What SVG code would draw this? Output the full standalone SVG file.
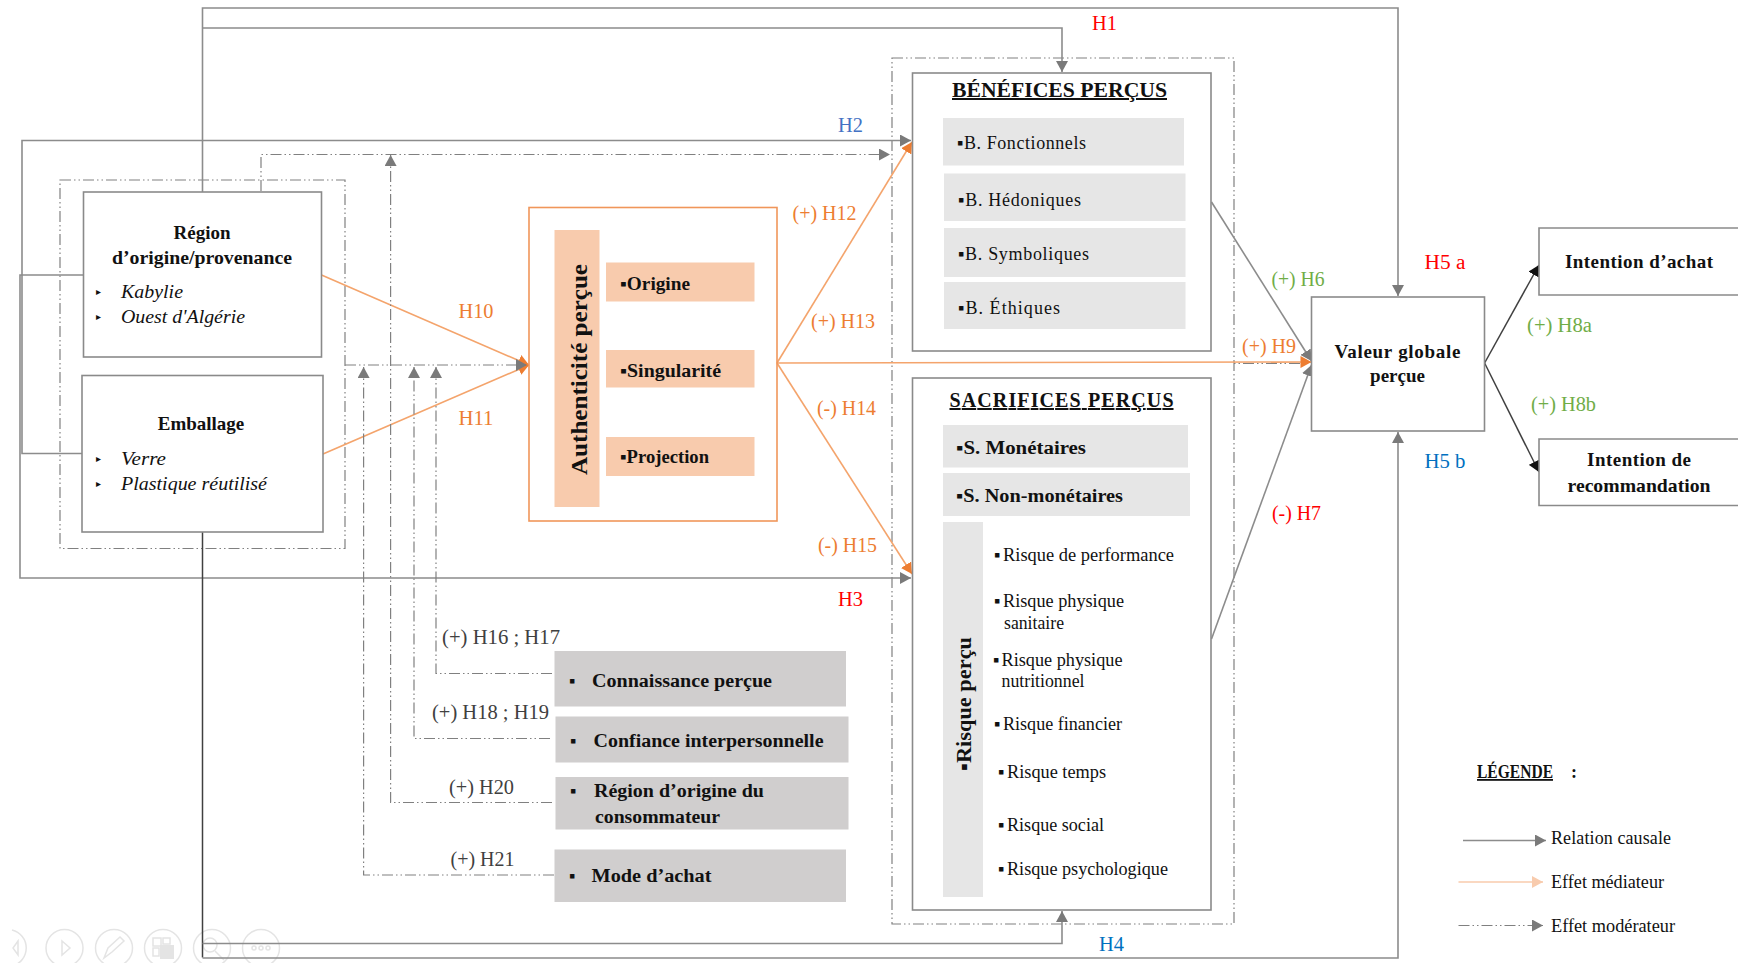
<svg xmlns="http://www.w3.org/2000/svg" width="1738" height="963" viewBox="0 0 1738 963">
<style>
text{font-family:"Liberation Serif","Times New Roman",serif;fill:#111}
.b{font-weight:bold}
.i{font-style:italic}
.box{fill:#fff;stroke:#8a8a8a;stroke-width:1.6}
.dash{fill:none;stroke:#808080;stroke-width:1.2;stroke-dasharray:11 3 1.5 3 1.5 3}
.line{fill:none;stroke:#8c8c8c;stroke-width:1.6}
.or{fill:none;stroke:#f4a46c;stroke-width:1.6}
.blk{fill:none;stroke:#404040;stroke-width:1.5}
.g{fill:#e6e6e6}
.p{fill:#f8cbad}
.m{fill:#d0cece}
.t{font-size:18px}
.n{font-size:19px}
.l{font-size:20px}
.s{font-size:10px;font-style:normal}
.m1{font-size:20px;fill:#404040}
.ro{fill:#ed7d31}.rr{fill:#ff0000}.rb{fill:#0070c0}.rb2{fill:#4472c4}.rg{fill:#70ad47}
.ic{fill:none;stroke:#e4e4e4;stroke-width:1.5}
.if{fill:#e4e4e4}
</style>
<defs>
<marker id="ag" markerUnits="userSpaceOnUse" markerWidth="12" markerHeight="12" refX="11" refY="6" orient="auto"><path d="M0 0L11 6L0 12z" fill="#7a7a7a"/></marker>
<marker id="ao" markerUnits="userSpaceOnUse" markerWidth="12" markerHeight="12" refX="11" refY="6" orient="auto"><path d="M0 0L11 6L0 12z" fill="#ed7d31"/></marker>
<marker id="ak" markerUnits="userSpaceOnUse" markerWidth="12" markerHeight="12" refX="11" refY="6" orient="auto"><path d="M0 0L11 6L0 12z" fill="#111"/></marker>
<marker id="ap" markerUnits="userSpaceOnUse" markerWidth="12" markerHeight="12" refX="11" refY="6" orient="auto"><path d="M0 0L11 6L0 12z" fill="#f8cbad"/></marker>
</defs>
<rect width="1738" height="963" fill="#fff"/>

<g id="toolbar">
<path class="ic" d="M12 930A18.500 18.500 0 0 1 12 966M18 941L13 948L18 955z"/>
<circle class="ic" cx="64.500" cy="948" r="18.500"/><path class="ic" d="M62 941L70 948L62 955z"/>
<circle class="ic" cx="114" cy="948" r="18.500"/><path class="ic" d="M104 958L108 948L120 937L124 941L112 952z"/>
<circle class="ic" cx="163" cy="948" r="18.500"/><rect class="ic" x="153" y="938" width="8" height="8"/><rect class="ic" x="163" y="938" width="7" height="6"/><rect class="ic" x="153" y="948" width="6" height="8"/><rect class="if" x="160" y="945" width="14" height="14"/>
<circle class="ic" cx="212" cy="948" r="18.500"/><circle class="ic" cx="210" cy="945" r="7"/><path class="ic" d="M215 951L224 960"/>
<circle class="ic" cx="261" cy="948" r="18.500"/><circle class="ic" cx="254" cy="948" r="2"/><circle class="ic" cx="261" cy="948" r="2"/><circle class="ic" cx="268" cy="948" r="2"/>
</g>

<g id="dashed-frames">
<rect class="dash" x="60" y="180" width="285" height="368.500"/>
<rect class="dash" x="892" y="58" width="342" height="866"/>
</g>

<g id="connectors">
<path class="line" d="M202.500 192V8H1398V296" marker-end="url(#ag)"/>
<path class="line" d="M202.500 28H1062V72" marker-end="url(#ag)"/>
<path class="line" d="M83 453.500H22V140.500H911" marker-end="url(#ag)"/>
<path class="line" d="M83 275H20V578H911" marker-end="url(#ag)"/>
<path class="blk" d="M202.500 532V957.500" stroke-width="1.2"/>
<path class="line" d="M202.500 943.500H1062V911" marker-end="url(#ag)"/>
<path class="line" d="M202.500 958H1398V432" marker-end="url(#ag)"/>
<path class="line" d="M1211.500 202L1311.500 361" marker-end="url(#ag)"/>
<path class="line" d="M1211.500 639L1311.500 365" marker-end="url(#ag)"/>
<path class="or" d="M321.500 275L529 365" marker-end="url(#ao)"/>
<path class="or" d="M323 454L529 365" marker-end="url(#ao)"/>
<path class="dash" d="M345 365H527" marker-end="url(#ag)"/>
<path class="or" d="M777 363L912 142" marker-end="url(#ao)"/>
<path class="or" d="M777 363L912 574" marker-end="url(#ao)"/>
<path class="or" d="M777 363L1311.500 362" marker-end="url(#ao)"/>
<path class="dash" d="M1300 363.500H1234"/>
<path class="blk" d="M1484.600 363L1539 265" marker-end="url(#ak)"/>
<path class="blk" d="M1484.600 363L1539 472" marker-end="url(#ak)"/>
<path class="dash" d="M261 191V154.500H890" marker-end="url(#ag)"/>
<path class="dash" d="M552 802.500H390.600V155" marker-end="url(#ag)"/>
<path class="dash" d="M552 673.500H436V367" marker-end="url(#ag)"/>
<path class="dash" d="M550 738.500H414V367" marker-end="url(#ag)"/>
<path class="dash" d="M554 875H363.600V367" marker-end="url(#ag)"/>
</g>

<g id="region-origine">
<rect class="box" x="83.500" y="192" width="238" height="165"/>
<text class="b n" x="202" y="239" text-anchor="middle">Région</text>
<text class="b n" x="202" y="264" text-anchor="middle" textLength="180" lengthAdjust="spacingAndGlyphs">d’origine/provenance</text>
<text class="s" x="96" y="295">▸</text>
<text class="i n" x="121" y="298" textLength="62" lengthAdjust="spacingAndGlyphs">Kabylie</text>
<text class="s" x="96" y="320">▸</text>
<text class="i n" x="121" y="323" textLength="124" lengthAdjust="spacingAndGlyphs">Ouest d'Algérie</text>
</g>
<g id="emballage">
<rect class="box" x="82" y="375.500" width="241" height="156.500"/>
<text class="b n" x="201" y="430" text-anchor="middle">Emballage</text>
<text class="s" x="96" y="462">▸</text>
<text class="i n" x="121" y="465" textLength="45" lengthAdjust="spacingAndGlyphs">Verre</text>
<text class="s" x="96" y="487">▸</text>
<text class="i n" x="121" y="490" textLength="146" lengthAdjust="spacingAndGlyphs">Plastique réutilisé</text>
</g>

<g id="authenticite">
<rect x="529" y="207.500" width="248" height="313.500" fill="none" stroke="#f0965a" stroke-width="1.6"/>
<rect class="p" x="554.500" y="230" width="45" height="277"/>
<text class="b" transform="translate(587 475) rotate(-90)" font-size="24" textLength="211" lengthAdjust="spacingAndGlyphs">Authenticité perçue</text>
<rect class="p" x="606" y="262.500" width="148.500" height="39"/>
<text class="b t" x="620" y="290" textLength="70" lengthAdjust="spacingAndGlyphs">▪Origine</text>
<rect class="p" x="606" y="350" width="148.500" height="37.500"/>
<text class="b t" x="620" y="376.500" textLength="101" lengthAdjust="spacingAndGlyphs">▪Singularité</text>
<rect class="p" x="606" y="437" width="148.500" height="39"/>
<text class="b t" x="620" y="462.500" textLength="89" lengthAdjust="spacingAndGlyphs">▪Projection</text>
</g>

<g id="benefices">
<rect class="box" x="912.500" y="73" width="298.500" height="278"/>
<text class="b" x="952" y="97" font-size="20" text-decoration="underline" textLength="215" lengthAdjust="spacingAndGlyphs">BÉNÉFICES PERÇUS</text>
<rect class="g" x="943" y="118" width="241" height="47.500"/>
<text class="t" x="957" y="148.500" textLength="129" lengthAdjust="spacing">▪B. Fonctionnels</text>
<rect class="g" x="944" y="173.500" width="241.500" height="47.500"/>
<text class="t" x="958" y="205.500" textLength="123" lengthAdjust="spacing">▪B. Hédoniques</text>
<rect class="g" x="944" y="228" width="241.500" height="49"/>
<text class="t" x="958" y="260" textLength="131" lengthAdjust="spacing">▪B. Symboliques</text>
<rect class="g" x="944" y="282" width="241.500" height="47"/>
<text class="t" x="958" y="313.500" textLength="102" lengthAdjust="spacing">▪B. Éthiques</text>
</g>

<g id="sacrifices">
<rect class="box" x="912.500" y="378" width="298.500" height="532"/>
<text class="b" x="949.500" y="407" font-size="20" text-decoration="underline" textLength="224" lengthAdjust="spacing">SACRIFICES  PERÇUS</text>
<rect class="g" x="943" y="425" width="245" height="42.500"/>
<text class="b t" x="956" y="453.500" textLength="130" lengthAdjust="spacingAndGlyphs">▪S. Monétaires</text>
<rect class="g" x="943" y="473" width="247" height="43"/>
<text class="b t" x="956" y="501.500" textLength="167" lengthAdjust="spacingAndGlyphs">▪S. Non-monétaires</text>
<rect class="g" x="943" y="522" width="40" height="375"/>
<text class="b" transform="translate(971 771) rotate(-90)" font-size="21" textLength="134" lengthAdjust="spacingAndGlyphs">▪Risque perçu</text>
<text class="t" x="994" y="561">▪</text><text class="t" x="1003" y="561" textLength="171" lengthAdjust="spacingAndGlyphs">Risque de performance</text>
<text class="t" x="994" y="607">▪</text><text class="t" x="1003" y="607" textLength="121" lengthAdjust="spacingAndGlyphs">Risque physique</text>
<text class="t" x="1004" y="629" textLength="60" lengthAdjust="spacingAndGlyphs">sanitaire</text>
<text class="t" x="993" y="666">▪</text><text class="t" x="1001.500" y="666" textLength="121" lengthAdjust="spacingAndGlyphs">Risque physique</text>
<text class="t" x="1001.500" y="687" textLength="83" lengthAdjust="spacingAndGlyphs">nutritionnel</text>
<text class="t" x="994" y="730">▪</text><text class="t" x="1003" y="730" textLength="119" lengthAdjust="spacingAndGlyphs">Risque financier</text>
<text class="t" x="998" y="778">▪</text><text class="t" x="1007" y="778" textLength="99" lengthAdjust="spacingAndGlyphs">Risque temps</text>
<text class="t" x="998" y="831">▪</text><text class="t" x="1007" y="831" textLength="97" lengthAdjust="spacingAndGlyphs">Risque social</text>
<text class="t" x="998" y="875">▪</text><text class="t" x="1007" y="875" textLength="161" lengthAdjust="spacingAndGlyphs">Risque psychologique</text>
</g>

<g id="valeur">
<rect class="box" x="1311.500" y="297" width="173" height="134"/>
<text class="b n" x="1397.500" y="358" text-anchor="middle" textLength="126" lengthAdjust="spacing">Valeur globale</text>
<text class="b n" x="1397.500" y="382" text-anchor="middle">perçue</text>
</g>
<g id="intention-achat">
<path class="box" d="M1738 228H1539V295H1738"/>
<text class="b n" x="1639" y="267.500" text-anchor="middle" textLength="148" lengthAdjust="spacing">Intention d’achat</text>
</g>
<g id="intention-reco">
<path class="box" d="M1738 439H1539V505.500H1738"/>
<text class="b n" x="1639" y="465.500" text-anchor="middle" textLength="104" lengthAdjust="spacing">Intention de</text>
<text class="b n" x="1639" y="491.500" text-anchor="middle" textLength="143" lengthAdjust="spacingAndGlyphs">recommandation</text>
</g>

<g id="mod-connaissance">
<rect class="m" x="554.500" y="651" width="291.500" height="55.500"/>
<text class="b t" x="569" y="687">▪</text>
<text class="b t" x="592" y="687" textLength="180" lengthAdjust="spacingAndGlyphs">Connaissance perçue</text>
</g>
<g id="mod-confiance">
<rect class="m" x="555.500" y="716.500" width="293" height="46"/>
<text class="b t" x="570" y="746.500">▪</text>
<text class="b t" x="593.500" y="746.500" textLength="230" lengthAdjust="spacingAndGlyphs">Confiance interpersonnelle</text>
</g>
<g id="mod-region">
<rect class="m" x="555.500" y="777" width="293" height="52.500"/>
<text class="b t" x="570" y="796.500">▪</text>
<text class="b t" x="594" y="796.500" textLength="170" lengthAdjust="spacingAndGlyphs">Région d’origine du</text>
<text class="b t" x="595" y="822.500" textLength="125" lengthAdjust="spacingAndGlyphs">consommateur</text>
</g>
<g id="mod-achat">
<rect class="m" x="554.500" y="849.500" width="291.500" height="52.500"/>
<text class="b t" x="569" y="881.500">▪</text>
<text class="b t" x="591.500" y="881.500" textLength="120" lengthAdjust="spacingAndGlyphs">Mode d’achat</text>
</g>

<g id="labels">
<text class="l rr" x="1092" y="30" textLength="25" lengthAdjust="spacingAndGlyphs">H1</text>
<text class="l rb2" x="838" y="132" textLength="25" lengthAdjust="spacingAndGlyphs">H2</text>
<text class="l rr" x="838" y="606" textLength="25" lengthAdjust="spacingAndGlyphs">H3</text>
<text class="l rb" x="1099" y="951" textLength="25" lengthAdjust="spacingAndGlyphs">H4</text>
<text class="l rr" x="1424.500" y="269" textLength="41" lengthAdjust="spacingAndGlyphs">H5 a</text>
<text class="l rb" x="1424.500" y="468" textLength="41" lengthAdjust="spacingAndGlyphs">H5 b</text>
<text class="l rg" x="1271.500" y="286" textLength="53" lengthAdjust="spacingAndGlyphs">(+) H6</text>
<text class="l rr" x="1272" y="520" textLength="49" lengthAdjust="spacingAndGlyphs">(-) H7</text>
<text class="l rg" x="1527" y="332" textLength="65" lengthAdjust="spacingAndGlyphs">(+) H8a</text>
<text class="l rg" x="1531" y="411" textLength="65" lengthAdjust="spacingAndGlyphs">(+) H8b</text>
<text class="l ro" x="1242" y="353" textLength="54" lengthAdjust="spacingAndGlyphs">(+) H9</text>
<text class="l ro" x="458.500" y="318" textLength="35" lengthAdjust="spacingAndGlyphs">H10</text>
<text class="l ro" x="458.500" y="425" textLength="35" lengthAdjust="spacingAndGlyphs">H11</text>
<text class="l ro" x="792.500" y="220" textLength="64" lengthAdjust="spacingAndGlyphs">(+) H12</text>
<text class="l ro" x="811" y="328" textLength="64" lengthAdjust="spacingAndGlyphs">(+) H13</text>
<text class="l ro" x="817" y="415" textLength="59" lengthAdjust="spacingAndGlyphs">(-) H14</text>
<text class="l ro" x="818" y="552" textLength="59" lengthAdjust="spacingAndGlyphs">(-) H15</text>
<text class="m1" x="442" y="644" textLength="118" lengthAdjust="spacingAndGlyphs">(+) H16 ; H17</text>
<text class="m1" x="432" y="719" textLength="117" lengthAdjust="spacingAndGlyphs">(+) H18 ; H19</text>
<text class="m1" x="449" y="794" textLength="65" lengthAdjust="spacingAndGlyphs">(+) H20</text>
<text class="m1" x="450.500" y="866" textLength="64" lengthAdjust="spacingAndGlyphs">(+) H21</text>
</g>

<g id="legende">
<text class="b t" x="1477" y="778" text-decoration="underline" textLength="76" lengthAdjust="spacingAndGlyphs">LÉGENDE</text>
<text class="b t" x="1571" y="778">:</text>
<path class="line" d="M1463 840.500H1546" marker-end="url(#ag)"/>
<path d="M1458.500 882H1543" fill="none" stroke="#f8cbad" stroke-width="1.6" marker-end="url(#ap)"/>
<path class="dash" d="M1458.500 925.500H1543" marker-end="url(#ag)"/>
<text class="t" x="1551" y="844" textLength="120" lengthAdjust="spacing">Relation  causale</text>
<text class="t" x="1551" y="888" textLength="113" lengthAdjust="spacingAndGlyphs">Effet médiateur</text>
<text class="t" x="1551" y="932" textLength="124" lengthAdjust="spacingAndGlyphs">Effet modérateur</text>
</g>
</svg>
